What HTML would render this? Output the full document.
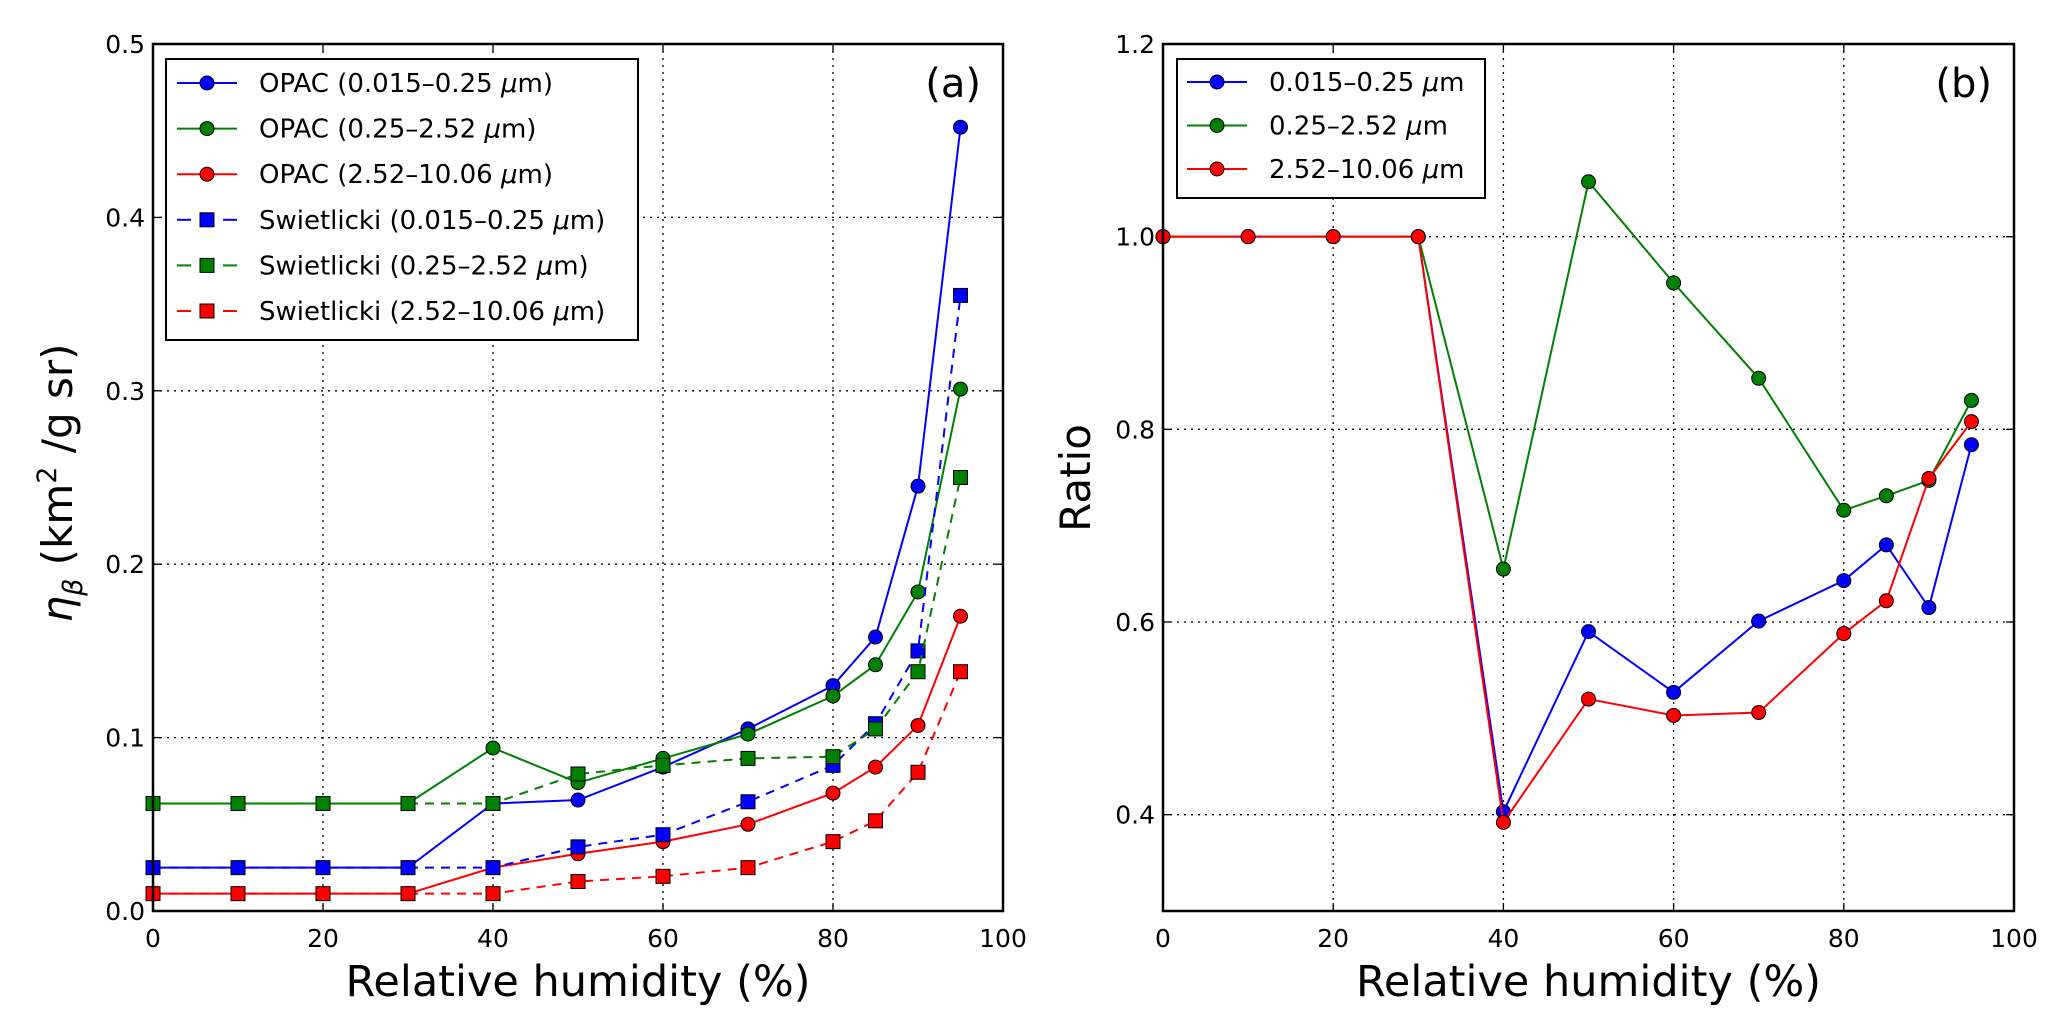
<!DOCTYPE html>
<html><head><meta charset="utf-8"><style>
html,body{margin:0;padding:0;background:#fff;}
svg{display:block;font-family:"DejaVu Sans","Liberation Sans",sans-serif;}
</style></head><body>
<svg id="c" width="2066" height="1033" viewBox="0 0 2066 1033" xmlns="http://www.w3.org/2000/svg"></svg>
<script>
const rh = [0,10,20,30,40,50,60,70,80,85,90,95];
const opacFine = [0.025,0.025,0.025,0.025,0.062,0.064,0.083,0.105,0.130,0.158,0.245,0.452];
const opacAcc = [0.062,0.062,0.062,0.062,0.094,0.074,0.088,0.102,0.124,0.142,0.184,0.301];
const opacCoarse = [0.010,0.010,0.010,0.010,0.025,0.033,0.040,0.050,0.068,0.083,0.107,0.170];
const swFine = [0.025,0.025,0.025,0.025,0.025,0.037,0.044,0.063,0.084,0.108,0.150,0.355];
const swAcc = [0.062,0.062,0.062,0.062,0.062,0.079,0.084,0.088,0.089,0.105,0.138,0.250];
const swCoarse = [0.010,0.010,0.010,0.010,0.010,0.017,0.020,0.025,0.040,0.052,0.080,0.138];
const ratioFine = [1,1,1,1,0.403,0.590,0.527,0.601,0.643,0.680,0.615,0.784];
const ratioAcc = [1,1,1,1,0.655,1.057,0.952,0.853,0.716,0.731,0.747,0.830];
const ratioCoarse = [1,1,1,1,0.392,0.520,0.503,0.506,0.588,0.622,0.749,0.808];
const xTicks = [0,20,40,60,80,100];
const yTicksA = ["0.0","0.1","0.2","0.3","0.4","0.5"];
const yTicksB = ["0.4","0.6","0.8","1.0","1.2"];
const legendA = ["OPAC (0.015–0.25 ","OPAC (0.25–2.52 ","OPAC (2.52–10.06 ","Swietlicki (0.015–0.25 ","Swietlicki (0.25–2.52 ","Swietlicki (2.52–10.06 "];
const legendB = ["0.015–0.25 ","0.25–2.52 ","2.52–10.06 "];

const NS="http://www.w3.org/2000/svg";
const svg=document.getElementById('c');
function mk(tag,attrs,parent){const e=document.createElementNS(NS,tag);for(const k in attrs)e.setAttribute(k,attrs[k]);(parent||svg).appendChild(e);return e;}

function panel(p){
  const g=mk('g',{});
  
  
  const X=v=>p.x0+(v-0)/(100-0)*(p.x1-p.x0);
  const Y=v=>p.yb-(v-p.ymin)/(p.ymax-p.ymin)*(p.yb-p.yt);
  xTicks.forEach(t=>{
    if(t>0&&t<100){const l=mk('line',{x1:X(t),x2:X(t),y1:p.yt,y2:p.yb,stroke:'#000','stroke-width':1.3,'stroke-dasharray':'2,5'},g);
    }
  });
  p.yt_.forEach(t=>{
    const v=parseFloat(t);
    if(v>p.ymin&&v<p.ymax){const l=mk('line',{x1:p.x0,x2:p.x1,y1:Y(v),y2:Y(v),stroke:'#000','stroke-width':1.3,'stroke-dasharray':'2,5'},g);
    }
  });
  xTicks.forEach(t=>{
    mk('line',{x1:X(t),x2:X(t),y1:p.yb,y2:p.yb-8,stroke:'#000','stroke-width':1.3},g);
    mk('line',{x1:X(t),x2:X(t),y1:p.yt,y2:p.yt+8,stroke:'#000','stroke-width':1.3},g);
    const tx=mk('text',{x:X(t),y:p.yb+36,'font-size':25,'text-anchor':'middle'},g);tx.textContent=t;
    
  });
  p.yt_.forEach(t=>{
    const v=parseFloat(t);
    mk('line',{x1:p.x0,x2:p.x0+8,y1:Y(v),y2:Y(v),stroke:'#000','stroke-width':1.3},g);
    mk('line',{x1:p.x1,x2:p.x1-8,y1:Y(v),y2:Y(v),stroke:'#000','stroke-width':1.3},g);
    const tx=mk('text',{x:p.x0-8,y:Y(v)+9,'font-size':25,'text-anchor':'end'},g);tx.textContent=t;
    
  });
  p.series.forEach(s=>{
    const sg=mk('g',{},g);
    
    
    const pts=rh.map((r,i)=>X(r)+','+Y(s.d[i])).join(' ');
    mk('polyline',{points:pts,fill:'none',stroke:s.c,'stroke-width':2,'stroke-dasharray':s.dash?'9,7':'none'},sg);
    rh.forEach((r,i)=>{
      let m;
      if(s.sq) m=mk('rect',{x:X(r)-7,y:Y(s.d[i])-7,width:14,height:14,fill:s.c,stroke:'#000','stroke-width':1},sg);
      else m=mk('circle',{cx:X(r),cy:Y(s.d[i]),r:7,fill:s.c,stroke:'#000','stroke-width':1},sg);
      
    });
  });
  const fr=mk('rect',{x:p.x0,y:p.yt,width:p.x1-p.x0,height:p.yb-p.yt,fill:'none',stroke:'#000','stroke-width':2.5},g);
  
  const xl=mk('text',{x:(p.x0+p.x1)/2,y:996,'font-size':43,'text-anchor':'middle'},g);xl.textContent='Relative humidity (%)';
  
  const pl=mk('text',{x:p.x1-22,y:97,'font-size':40,'text-anchor':'end'},g);pl.textContent=p.tag;
  
  const L=p.leg;
  const lg=mk('g',{},g);
  
  mk('rect',{x:L.x,y:L.y,width:L.w,height:L.h,fill:'#fff',stroke:'#000','stroke-width':2},lg);
  L.labels.forEach((lab,i)=>{
    const s=p.series[i];const yy=L.y0+i*L.dy;
    const e=mk('g',{},lg);
    
    if(s.dash){mk('line',{x1:L.lx,x2:L.lx+14,y1:yy,y2:yy,stroke:s.c,'stroke-width':2},e);mk('line',{x1:L.lx+46,x2:L.lx+60,y1:yy,y2:yy,stroke:s.c,'stroke-width':2},e);}
    else mk('line',{x1:L.lx,x2:L.lx+60,y1:yy,y2:yy,stroke:s.c,'stroke-width':2},e);
    if(s.sq) mk('rect',{x:L.lx+23,y:yy-7,width:14,height:14,fill:s.c,stroke:'#000','stroke-width':1},e);
    else mk('circle',{cx:L.lx+30,cy:yy,r:7,fill:s.c,stroke:'#000','stroke-width':1},e);
    const t=mk('text',{x:L.tx,y:yy+9,'font-size':26},e);
    t.textContent=lab;
    const mu=mk('tspan',{'font-style':'italic'},t);mu.textContent='μ';
    const m2=mk('tspan',{},t);m2.textContent=L.close?'m)':'m';
  });
}

panel({name:'panel-a',tag:'(a)',x0:153,x1:1003,yt:44,yb:911,ymin:0,ymax:0.5,yt_:yTicksA,
  series:[
    {name:'opac-fine-series',d:opacFine,c:'#0000ff'},
    {name:'opac-accumulation-series',d:opacAcc,c:'#008000'},
    {name:'opac-coarse-series',d:opacCoarse,c:'#ff0000'},
    {name:'swietlicki-fine-series',d:swFine,c:'#0000ff',dash:1,sq:1},
    {name:'swietlicki-accumulation-series',d:swAcc,c:'#008000',dash:1,sq:1},
    {name:'swietlicki-coarse-series',d:swCoarse,c:'#ff0000',dash:1,sq:1}],
  leg:{x:166,y:59,w:472,h:281,y0:83,dy:45.6,lx:177,tx:259,labels:legendA,close:1}});

panel({name:'panel-b',tag:'(b)',x0:1163,x1:2014,yt:44,yb:911,ymin:0.3,ymax:1.2,yt_:yTicksB,
  series:[
    {name:'ratio-fine-series',d:ratioFine,c:'#0000ff'},
    {name:'ratio-accumulation-series',d:ratioAcc,c:'#008000'},
    {name:'ratio-coarse-series',d:ratioCoarse,c:'#ff0000'}],
  leg:{x:1177,y:59,w:308,h:139,y0:82,dy:43.5,lx:1187,tx:1269,labels:legendB,close:0}});

const ya=mk('text',{x:0,y:0,'font-size':42,'text-anchor':'middle',transform:'translate(72,483) rotate(-90)'});

const t1=mk('tspan',{'font-style':'italic'},ya);t1.textContent='η';
const t2=mk('tspan',{'font-style':'italic','font-size':27,dy:10},ya);t2.textContent='β';
const t3=mk('tspan',{dy:-10},ya);t3.textContent=' (km';
const t4=mk('tspan',{'font-size':27,dy:-16},ya);t4.textContent='2';
const t5=mk('tspan',{dy:16},ya);t5.textContent=' /g sr)';
const yb=mk('text',{x:0,y:0,'font-size':42,'text-anchor':'middle',transform:'translate(1090,478) rotate(-90)'});

yb.textContent='Ratio';
</script>
</body></html>
